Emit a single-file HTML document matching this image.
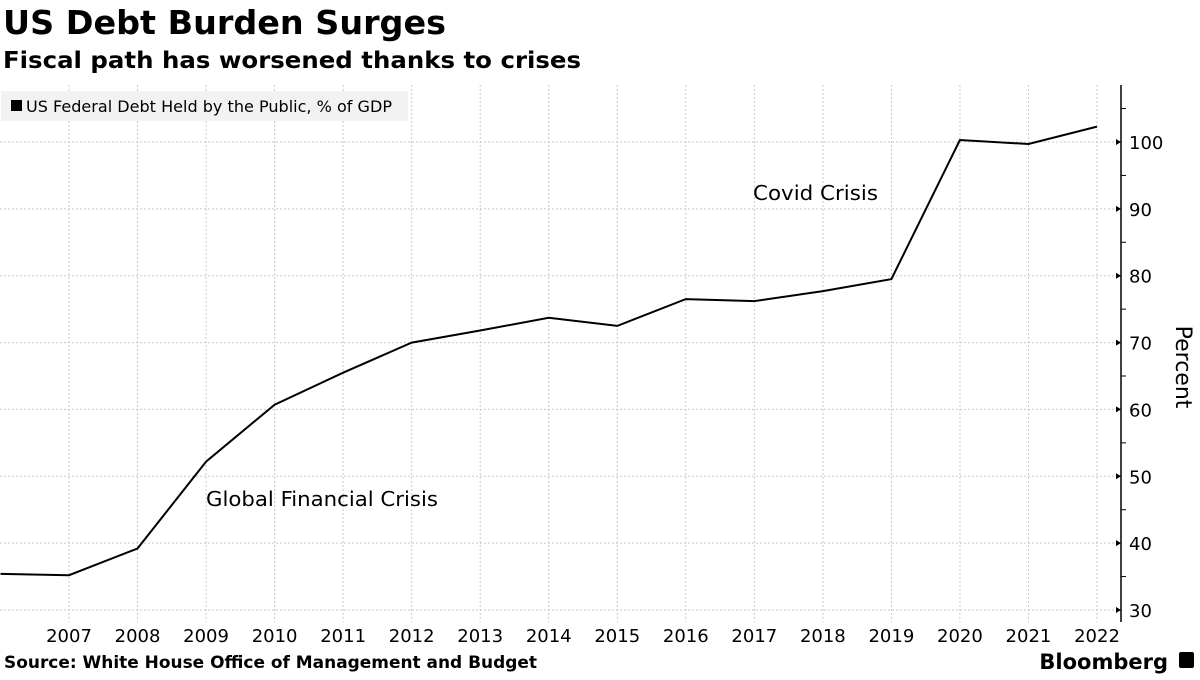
<!DOCTYPE html>
<html><head><meta charset="utf-8"><style>
body{margin:0;width:1200px;height:675px;background:#fff;overflow:hidden;font-family:"Liberation Sans","DejaVu Sans",sans-serif}
svg text{font-family:"DejaVu Sans","Liberation Sans",sans-serif}
</style></head><body>
<svg id="c" width="1200" height="675">
<text x="3" y="34" font-size="33" font-weight="bold" fill="#000" textLength="443" lengthAdjust="spacingAndGlyphs">US Debt Burden Surges</text>
<text x="3" y="68" font-size="23" font-weight="bold" fill="#000" textLength="578" lengthAdjust="spacingAndGlyphs">Fiscal path has worsened thanks to crises</text>
<g id="grid"></g>
<rect x="1" y="91" width="407" height="30" fill="#f2f2f2"/>
<rect x="11" y="100" width="11" height="11" fill="#000"/>
<text x="26" y="112" font-size="16" fill="#000" textLength="366" lengthAdjust="spacingAndGlyphs">US Federal Debt Held by the Public, % of GDP</text>
<g id="axes"></g>
<path id="line" fill="none" stroke="#000" stroke-width="2"/>
<text x="206" y="506" font-size="20.5" fill="#000" textLength="232" lengthAdjust="spacingAndGlyphs">Global Financial Crisis</text>
<text x="753" y="200" font-size="20.5" fill="#000" textLength="125" lengthAdjust="spacingAndGlyphs">Covid Crisis</text>
<text transform="translate(1176,367) rotate(90)" text-anchor="middle" font-size="22" fill="#000">Percent</text>
<text x="4" y="668" font-size="16.5" font-weight="bold" fill="#000" textLength="533" lengthAdjust="spacingAndGlyphs">Source: White House Office of Management and Budget</text>
<text x="1168" y="669" text-anchor="end" font-size="21" font-weight="bold" fill="#000">Bloomberg</text>
<rect x="1179" y="652" width="15" height="16" rx="2" fill="#000"/>
</svg>
<script>
const years=[2006,2007,2008,2009,2010,2011,2012,2013,2014,2015,2016,2017,2018,2019,2020,2021,2022];
const debt=[35.4,35.2,39.2,52.2,60.7,65.5,70.0,71.8,73.7,72.5,76.5,76.2,77.7,79.5,100.3,99.7,102.3];
const yTicks=[30,40,50,60,70,80,90,100];
const xLabels=[2007,2008,2009,2010,2011,2012,2013,2014,2015,2016,2017,2018,2019,2020,2021,2022];
const NS='http://www.w3.org/2000/svg';
const x=v=>69+(v-2007)*(1097-69)/15;
const y=v=>610-(v-30)*(610-142)/70;
const L=1121,T=85,B=622;
const grid=document.getElementById('grid'),axes=document.getElementById('axes');
function mk(tag,attrs,parent,text){const e=document.createElementNS(NS,tag);for(const k in attrs)e.setAttribute(k,attrs[k]);if(text!==undefined)e.textContent=text;parent.appendChild(e);return e;}
xLabels.forEach(yr=>{
 const g=mk('line',{x1:x(yr),x2:x(yr),y1:T,y2:B,stroke:'#c8c8c8','stroke-dasharray':'2,2'},grid);
 
 
 const t=mk('text',{x:x(yr),y:642,'text-anchor':'middle','font-size':18,fill:'#000'},axes,yr);
 
 
});
yTicks.forEach(v=>{
 const g=mk('line',{x1:0,x2:L,y1:y(v),y2:y(v),stroke:'#c8c8c8','stroke-dasharray':'2,2'},grid);
 
 
 const m=mk('path',{d:`M${L-5},${y(v)-3}L${L},${y(v)}L${L-5},${y(v)+3}Z`,fill:'#000'},axes);
 
 
 const n=mk('line',{x1:L,x2:L+5,y1:y(v+5),y2:y(v+5),stroke:'#000'},axes);
 
 
 const t=mk('text',{x:L+8,y:y(v)+7,'font-size':18,fill:'#000'},axes,v);
 
 
});
const ax=mk('line',{x1:L,x2:L,y1:T,y2:B,stroke:'#000','stroke-width':1.5},axes);


document.getElementById('line').setAttribute('d',years.map((yr,i)=>(i?'L':'M')+x(yr).toFixed(1)+','+y(debt[i]).toFixed(1)).join(''));
</script>
</body></html>
